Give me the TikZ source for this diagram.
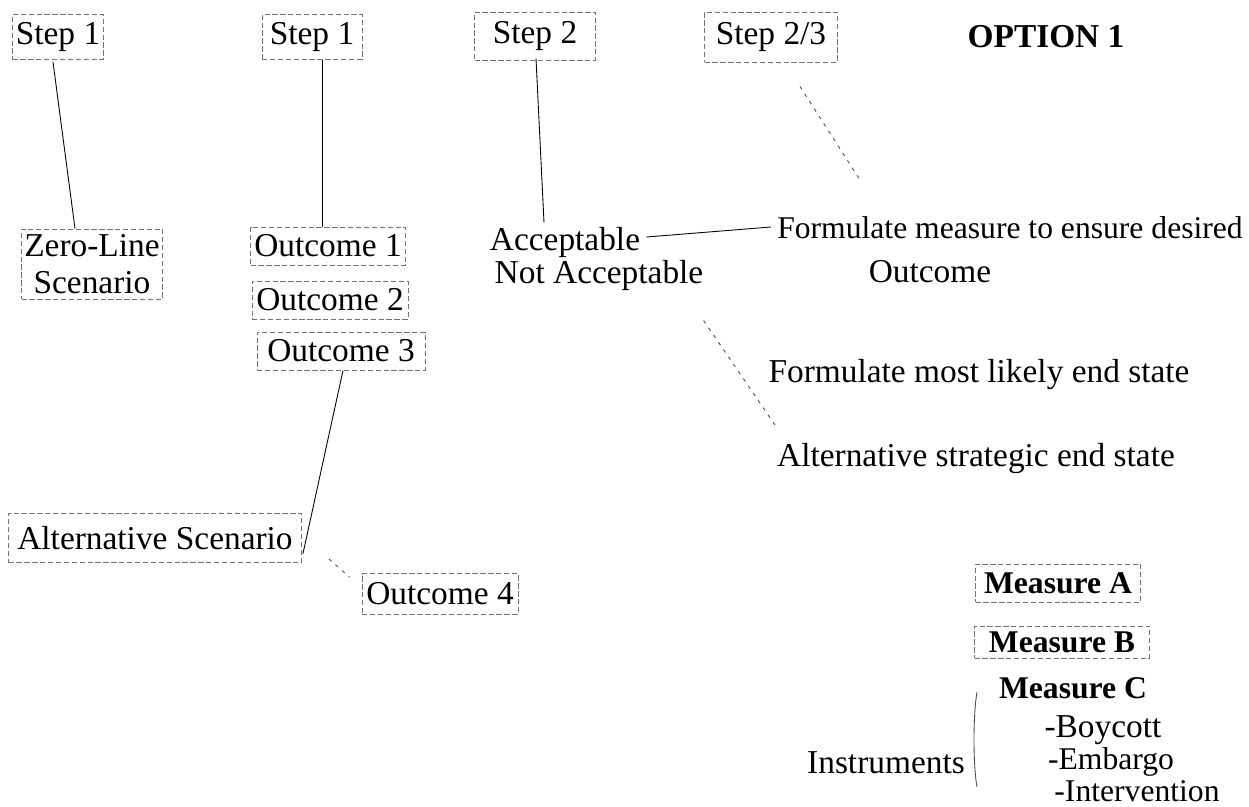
\documentclass[tikz,border=0pt]{standalone}
\usepackage{fontspec}
\setmainfont{Liberation Serif}
\usetikzlibrary{calc}
\tikzset{
  lbl/.style={inner sep=0pt, font=\fontsize{19}{21}\selectfont},
  boxed/.style={lbl, draw=black!55, dash pattern=on 3pt off 1.5pt, line width=0.5pt},
  bld/.style={inner sep=0pt, font=\fontsize{18}{20}\selectfont\bfseries},
  bldbox/.style={bld, draw=black!55, dash pattern=on 3pt off 1.5pt, line width=0.5pt},
  conn/.style={draw=black, line width=0.5pt},
  dconn/.style={draw=black!70, line width=0.5pt, dash pattern=on 2pt off 3pt},
}
\begin{document}
\begin{tikzpicture}[x=0.02cm, y=-0.02cm]
\useasboundingbox (0,0) rectangle (1249,806);

% top steps
\node[boxed, minimum width=1.82cm, minimum height=0.9cm] (s1a) at (58,37) {Step 1};
\node[boxed, minimum width=2.0cm, minimum height=0.9cm] (s1b) at (312,37) {Step 1};
\node[boxed, minimum width=2.42cm, minimum height=0.96cm] (s2) at (535,36) {Step 2};
\node[boxed, minimum width=2.66cm, minimum height=1.0cm] (s23) at (771,37) {Step 2/3};
\node[inner sep=0pt, font=\fontsize{19}{21}\selectfont\bfseries] (opt) at (1046,37) {OPTION 1};

% middle row
\node[boxed, align=center, minimum width=2.82cm, minimum height=1.4cm] (zero) at (92,264) {Zero-Line\\Scenario};
\node[boxed, minimum width=3.1cm, minimum height=0.76cm] (o1) at (328,246) {Outcome 1};
\node[boxed, minimum width=3.12cm, minimum height=0.76cm] (o2) at (330,300) {Outcome 2};
\node[boxed, minimum width=3.36cm, minimum height=0.76cm] (o3) at (341,351) {Outcome 3};

\node[lbl] (acc) at (565,242) {Acceptable};
\node[lbl] (nacc) at (599,275) {Not Acceptable};

\node[lbl, font=\fontsize{18}{20}\selectfont] (form1) at (1010,228) {Formulate measure to ensure desired};
\node[lbl] (formout) at (930,272) {Outcome};
\node[lbl] (form2) at (979,375) {Formulate most likely end state};
\node[lbl] (alts) at (976,459) {Alternative strategic end state};

% lower left
\node[boxed, minimum width=5.86cm, minimum height=0.98cm] (alt) at (155,538) {Alternative Scenario};
\node[boxed, minimum width=3.12cm, minimum height=0.82cm] (o4) at (440,594) {Outcome 4};

% measures
\node[bldbox, minimum width=3.3cm, minimum height=0.76cm] (ma) at (1058,583) {Measure A};
\node[bldbox, minimum width=3.5cm, minimum height=0.64cm] (mb) at (1062,642) {Measure B};
\node[bld] (mc) at (1073,688) {Measure C};
\node[lbl] (boy) at (1103,730) {-Boycott};
\node[lbl, font=\fontsize{18}{20}\selectfont] (emb) at (1111,762) {-Embargo};
\node[lbl, font=\fontsize{18}{20}\selectfont] (intv) at (1137,791) {-Intervention};
\node[lbl] (instr) at (886,763) {Instruments};

\coordinate (brtop) at (977,692);
\coordinate (brbot) at (977,787);
\draw[conn, draw=black!70] (brtop) .. controls (973,715) and (973,765) .. (brbot);

% free ends
\coordinate (s23end) at (860,180);
\coordinate (naccend) at (775,425);

% connectors
\draw[conn] ($(s1a.south)+(-5,2)$) -- ($(zero.north)+(-17,0)$);
\draw[conn] ($(s1b.south)+(10,0)$) -- ($(o1.north)+(-6,0)$);
\draw[conn] ($(s2.south)+(1,-2)$) -- ($(acc.north)+(-21,-4)$);
\draw[dconn] ($(s23.south)+(29,24)$) -- (s23end);
\draw[conn] ($(acc.east)+(6,-5)$) -- ($(form1.west)+(-6,-1)$);
\draw[dconn] ($(nacc.south east)+(0,30)$) -- (naccend);
\draw[conn] ($(o3.south)+(2,0)$) -- ($(alt.south east)+(1,-9)$);
\draw[dconn] ($(alt.south east)+(27,-4)$) -- ($(o4.north west)+(-12,4)$);
\end{tikzpicture}
\end{document}
